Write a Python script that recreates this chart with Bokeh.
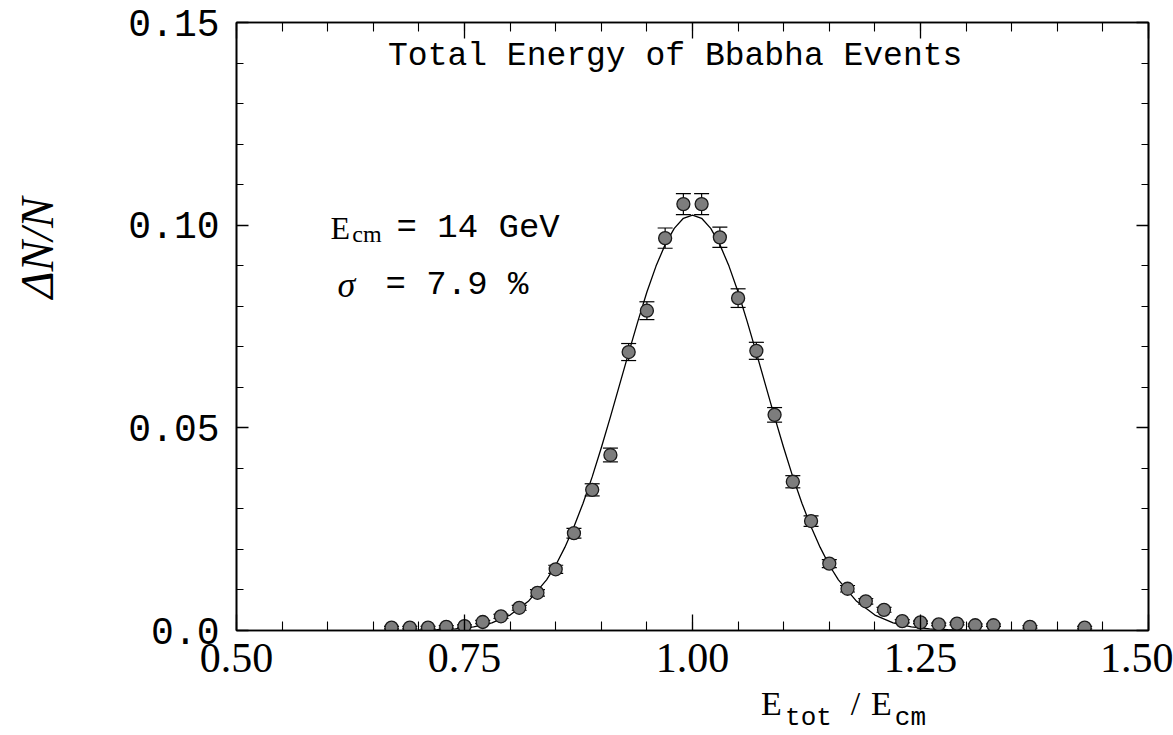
import math
from bokeh.plotting import figure
from bokeh.models import (ColumnDataSource, Whisker, TeeHead, Label, LinearAxis,
                          FixedTicker, CustomJSTickFormatter, Range1d)
from bokeh.embed import file_html
from bokeh.resources import INLINE

# ---------------- data ----------------
e_ratio = [0.67, 0.69, 0.71, 0.73, 0.75, 0.77, 0.79, 0.81, 0.83, 0.85,
           0.87, 0.89, 0.91, 0.93, 0.95, 0.97, 0.99, 1.01, 1.03, 1.05,
           1.07, 1.09, 1.11, 1.13, 1.15, 1.17, 1.19, 1.21, 1.23, 1.25,
           1.27, 1.29, 1.31, 1.33, 1.37, 1.43]
dn_n = [0.0007, 0.0007, 0.0007, 0.0009, 0.0011, 0.0021, 0.0035, 0.0056, 0.0093, 0.0151,
        0.0240, 0.0347, 0.0433, 0.0687, 0.0789, 0.0968, 0.1052, 0.1052, 0.0970, 0.0820,
        0.0690, 0.0532, 0.0367, 0.0270, 0.0165, 0.0103, 0.0072, 0.0051, 0.0023, 0.0020,
        0.0015, 0.0017, 0.0013, 0.0013, 0.0009, 0.0007]
dn_err = [0.0003, 0.0003, 0.0003, 0.0003, 0.0003, 0.0004, 0.0005, 0.0006, 0.0008, 0.0010,
          0.0012, 0.0015, 0.0017, 0.0021, 0.0022, 0.0025, 0.0026, 0.0026, 0.0025, 0.0023,
          0.0021, 0.0018, 0.0015, 0.0013, 0.0010, 0.0008, 0.0007, 0.0006, 0.0004, 0.0003,
          0.0003, 0.0003, 0.0003, 0.0003, 0.0003, 0.0003]

# fitted curve
fit_x = [0.70, 0.72, 0.74, 0.76, 0.78, 0.80, 0.82, 0.84, 0.85, 0.86, 0.87, 0.88, 0.89,
         0.90, 0.91, 0.92, 0.93, 0.94, 0.95, 0.96, 0.97, 0.98, 0.99, 1.00, 1.01, 1.02,
         1.03, 1.04, 1.05, 1.06, 1.07, 1.08, 1.09, 1.10, 1.11, 1.12, 1.13, 1.14, 1.15,
         1.16, 1.18, 1.20, 1.22, 1.24, 1.26, 1.28, 1.30]
fit_y = [0.0001, 0.0002, 0.0004, 0.0009, 0.0019, 0.0038, 0.0072, 0.0125, 0.0161, 0.0205,
         0.0256, 0.0314, 0.0379, 0.0451, 0.0527, 0.0606, 0.0685, 0.0762, 0.0835, 0.0899,
         0.0952, 0.0992, 0.1017, 0.1025, 0.1017, 0.0992, 0.0952, 0.0899, 0.0835, 0.0762,
         0.0685, 0.0606, 0.0527, 0.0451, 0.0379, 0.0314, 0.0256, 0.0205, 0.0161, 0.0125,
         0.0072, 0.0038, 0.0019, 0.0009, 0.0004, 0.0002, 0.0001]

x_ticks = [0.50, 0.75, 1.00, 1.25, 1.50]
x_tick_labels = ["0.50", "0.75", "1.00", "1.25", "1.50"]
y_ticks = [0.0, 0.05, 0.10, 0.15]
y_tick_labels = ["0.0", "0.05", "0.10", "0.15"]
x_minor = [round(0.5 + 0.05 * i, 2) for i in range(21)]
y_minor = [round(0.01 * i, 2) for i in range(16)]

title_text = "Total Energy of Bbabha Events"
x_title_main = ["E", "/", "E"]          # E_tot / E_cm, large parts
x_title_sub = ["tot", "cm"]             # subscripts
y_title = "ΔN/N"

# placement of the axis-title pieces (data x where each piece is centred)
x_title_main_at = [1.0866, 1.1787, 1.2072]
x_title_sub_at = [1.1272, 1.2390]
y_title_at = 0.0944

# ---------------- figure ----------------
p = figure(width=1173, height=735, x_range=Range1d(0.5, 1.5), y_range=Range1d(0.0, 0.15),
           min_border_left=236, min_border_right=25, min_border_top=22, min_border_bottom=103,
           toolbar_location=None, output_backend="svg")
p.grid.visible = False
p.background_fill_color = "white"
p.border_fill_color = "white"
p.outline_line_color = "black"
p.outline_line_width = 1.6

p.xaxis.ticker = FixedTicker(ticks=x_ticks, minor_ticks=x_minor)
p.xaxis.major_label_overrides = {t: s for t, s in zip(x_ticks, x_tick_labels)}
p.yaxis.ticker = FixedTicker(ticks=y_ticks, minor_ticks=y_minor)
p.yaxis.major_label_overrides = {t: s for t, s in zip(y_ticks, y_tick_labels)}

for ax in (p.xaxis[0], p.yaxis[0]):
    ax.axis_line_color = "black"
    ax.axis_line_width = 1.6
    ax.major_tick_out = 0
    ax.minor_tick_out = 0
    ax.major_tick_line_color = "black"
    ax.minor_tick_line_color = "black"
    ax.major_tick_line_width = 1.3
    ax.minor_tick_line_width = 1.1
    ax.major_label_text_color = "black"

p.xaxis.major_tick_in = 16
p.xaxis.minor_tick_in = 9
p.xaxis.major_label_text_font = "Liberation Serif"
p.xaxis.major_label_text_font_size = "42px"
p.xaxis.major_label_standoff = 13

p.yaxis.major_tick_in = 12
p.yaxis.minor_tick_in = 7
p.yaxis.major_label_text_font = "Liberation Mono"
p.yaxis.major_label_text_font_size = "38px"
p.yaxis.major_label_standoff = 17

blank = "return ''"
top = LinearAxis(ticker=FixedTicker(ticks=x_ticks, minor_ticks=x_minor),
                 formatter=CustomJSTickFormatter(code=blank))
right = LinearAxis(ticker=FixedTicker(ticks=y_ticks, minor_ticks=y_minor),
                   formatter=CustomJSTickFormatter(code=blank))
for ax, mi, ni in ((top, 16, 9), (right, 12, 7)):
    ax.axis_line_color = "black"
    ax.axis_line_width = 1.6
    ax.major_tick_out = 0
    ax.minor_tick_out = 0
    ax.major_tick_in = mi
    ax.minor_tick_in = ni
    ax.major_tick_line_width = 1.3
    ax.minor_tick_line_width = 1.1
    ax.major_label_standoff = 0
    ax.major_label_text_font_size = "1px"
p.add_layout(top, "above")
p.add_layout(right, "right")


def text_axis(ticks, texts, font, size, standoff, orientation="horizontal", style="normal"):
    ax = LinearAxis(ticker=FixedTicker(ticks=ticks, minor_ticks=[]),
                    major_label_overrides={t: s for t, s in zip(ticks, texts)})
    ax.axis_line_color = None
    ax.major_tick_line_color = None
    ax.minor_tick_line_color = None
    ax.major_tick_in = 0
    ax.major_tick_out = 0
    ax.minor_tick_in = 0
    ax.minor_tick_out = 0
    ax.major_label_text_font = font
    ax.major_label_text_font_size = size
    ax.major_label_text_font_style = style
    ax.major_label_text_color = "black"
    ax.major_label_standoff = standoff
    ax.major_label_orientation = orientation
    return ax


# x-axis title  E_tot / E_cm  (large letters, then lowered subscripts)
p.add_layout(text_axis(x_title_main_at, x_title_main, "Liberation Serif", "34px", 10), "below")
p.add_layout(text_axis(x_title_sub_at, x_title_sub, "Liberation Mono", "26px", -22), "below")
# y-axis title
p.add_layout(text_axis([y_title_at], [y_title], "Liberation Serif", "46px", 62,
                       orientation="parallel", style="italic"), "left")

# fit curve
p.line(fit_x, fit_y, line_color="black", line_width=1.3)

# data with error bars
src = ColumnDataSource(dict(
    x=e_ratio, y=dn_n,
    lo=[v - e for v, e in zip(dn_n, dn_err)],
    hi=[v + e for v, e in zip(dn_n, dn_err)],
))
p.scatter("x", "y", source=src, marker="circle", size=13,
          fill_color="#7d7d7d", line_color="#1a1a1a", line_width=1.3)
p.add_layout(Whisker(source=src, base="x", upper="hi", lower="lo", dimension="height",
                     line_color="black", line_width=1.2,
                     upper_head=TeeHead(size=15, line_color="black", line_width=1.2),
                     lower_head=TeeHead(size=15, line_color="black", line_width=1.2)))


# ---------------- texts inside the frame ----------------
def lab(x, y, text, font, size, align="left", baseline="alphabetic", style="normal"):
    p.add_layout(Label(x=x, y=y, text=text, text_font=font, text_font_size=size,
                       text_align=align, text_baseline=baseline, text_font_style=style,
                       text_color="black"))


lab(0.981, 0.1416, title_text, "Liberation Mono", "33px", align="center", baseline="middle")

# E_cm = 14 GeV
lab(0.603, 0.0993, "E", "Liberation Serif", "32px")
lab(0.627, 0.0979, "cm", "Liberation Serif", "24px")
lab(0.6754, 0.0993, "= 14 GeV", "Liberation Mono", "34px")

# sigma = 7.9 %
lab(0.6107, 0.0853, "σ", "Liberation Serif", "36px", style="italic")
lab(0.6634, 0.0853, "= 7.9 %", "Liberation Mono", "34px")

open("out.html", "w").write(file_html(p, INLINE))
